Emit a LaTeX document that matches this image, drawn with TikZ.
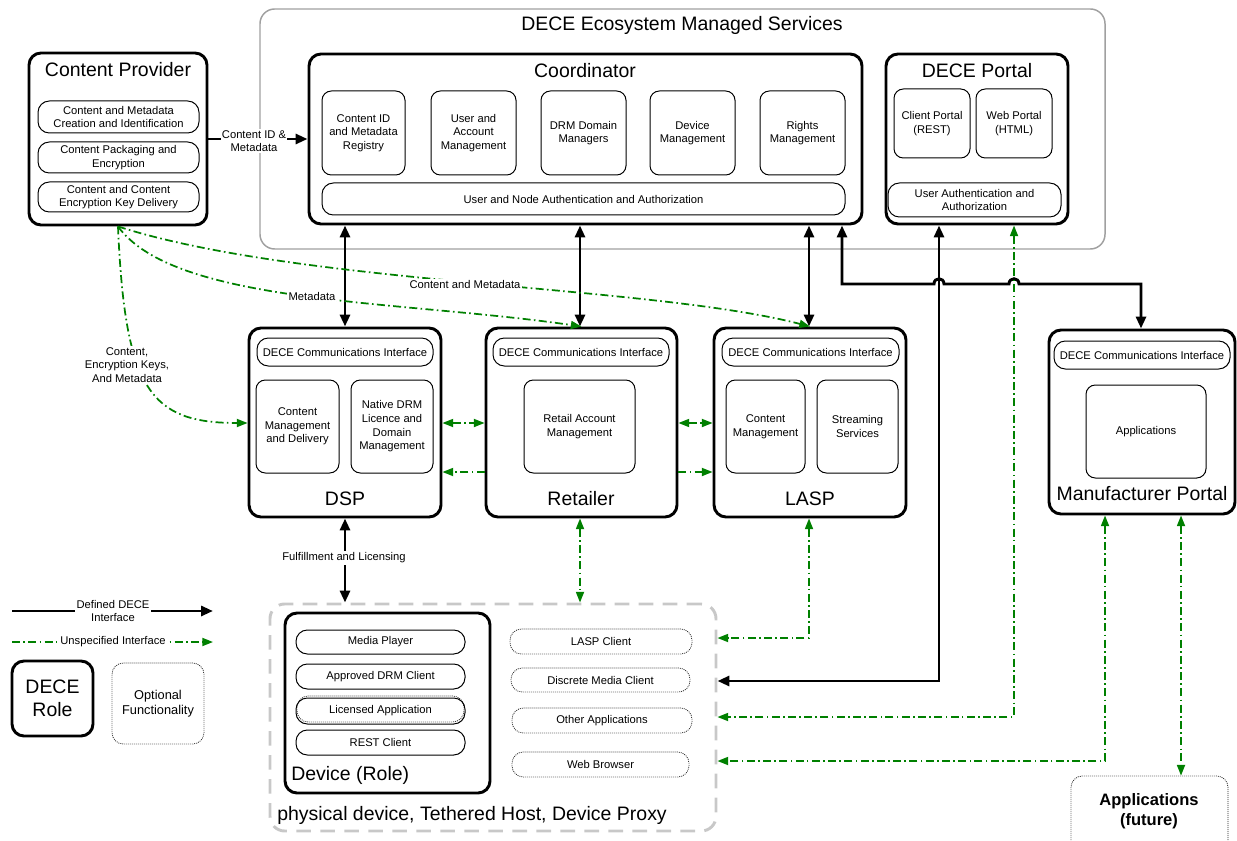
\documentclass[tikz,border=0pt]{standalone}
\usepackage{fontspec}
\setmainfont{Liberation Sans}
\usetikzlibrary{arrows.meta,fit,calc}
\definecolor{dgreen}{RGB}{0,128,0}
\definecolor{lgray}{RGB}{200,200,200}
\definecolor{mgray}{RGB}{160,160,160}
\newcommand{\fSm}{\fontsize{8.4}{10.2}\selectfont}
\newcommand{\fMd}{\fontsize{9.6}{11.6}\selectfont}
\newcommand{\fLg}{\fontsize{14.6}{17.3}\selectfont}
\newcommand{\fBd}{\fontsize{12.4}{15}\selectfont\bfseries}
\tikzset{
 role/.style={draw=black, line width=2.2pt, rounded corners=9pt, inner sep=0pt},
 sub/.style={draw=black, line width=0.75pt, rounded corners=7pt, inner sep=0pt},
 pill/.style={sub, rounded corners=8.5pt},
 opt/.style={draw=black!85, line width=0.6pt, dash pattern=on 0.7pt off 0.8pt, rounded corners=8.5pt, inner sep=0pt},
 txt/.style={font=\fSm, align=center, inner sep=0pt},
 title/.style={font=\fLg, inner sep=0pt},
 lbl/.style={font=\fSm, align=center, fill=white, inner sep=1pt},
 bk/.style={draw=black, line width=2.2pt, >={Triangle[length=9pt,width=7.5pt]}},
 gn/.style={draw=dgreen, line width=1.3pt, dash pattern=on 6pt off 2.5pt on 1.2pt off 2.5pt, >={Triangle[length=8pt,width=6pt]}},
}
% name, style, corner1, corner2, text
\newcommand{\mybox}[5]{\node[#2, fit={#3 #4}] (#1) {};\node[txt] (#1-t) at (#1.center) {#5};}
\begin{document}
\begin{tikzpicture}[x=0.75pt,y=-0.75pt]
\useasboundingbox (0,0) rectangle (1237,841);
\clip (0,0) rectangle (1237,841);

% ecosystem background
\node[draw=mgray, line width=1.1pt, rounded corners=11pt, inner sep=0pt, fit={(260,9) (1105,249)}] (eco) {};
\node[title] (ecot) at (682,25) {DECE Ecosystem Managed Services};

% Content Provider
\node[role, fit={(29,53) (207,225)}] (cp) {};
\node[title] (cpt) at (118,70) {Content Provider};
\mybox{cp1}{pill}{(38,101)}{(199,133)}{Content and Metadata\\Creation and Identification}
\mybox{cp2}{pill}{(38,142)}{(199,173)}{Content Packaging and\\Encryption}
\mybox{cp3}{pill}{(38,182)}{(199,212)}{Content and Content\\Encryption Key Delivery}

% Coordinator
\node[role, fit={(309,54) (862,224)}] (coord) {};
\node[title] (coordt) at (585,71) {Coordinator};
\mybox{co1}{sub}{(322,91)}{(405,175)}{Content ID\\and Metadata\\Registry}
\mybox{co2}{sub}{(431,91)}{(516,175)}{User and\\Account\\Management}
\mybox{co3}{sub}{(541,91)}{(626,175)}{DRM Domain\\Managers}
\mybox{co4}{sub}{(650,91)}{(735,175)}{Device\\Management}
\mybox{co5}{sub}{(760,91)}{(845,175)}{Rights\\Management}
\mybox{co6}{pill}{(322,183)}{(845,215)}{User and Node Authentication and Authorization}

% DECE Portal
\node[role, fit={(886,54) (1068,224)}] (dp) {};
\node[title] (dpt) at (977,71) {DECE Portal};
\mybox{dp1}{sub}{(894,89)}{(970,158)}{Client Portal\\(REST)}
\mybox{dp2}{sub}{(976,89)}{(1052,158)}{Web Portal\\(HTML)}
\mybox{dp3}{pill}{(888,183)}{(1061,217)}{User Authentication and\\Authorization}

% DSP
\node[role, fit={(249,328) (441,517)}] (dsp) {};
\mybox{dsp1}{pill}{(257,338)}{(433,366)}{DECE Communications Interface}
\mybox{dsp2}{sub}{(256,380)}{(339,473)}{Content\\Management\\and Delivery}
\mybox{dsp3}{sub}{(351,380)}{(433,473)}{Native DRM\\Licence and\\Domain\\Management}
\node[title] (dspt) at (345,499) {DSP};

% Retailer
\node[role, fit={(486,328) (677,517)}] (ret) {};
\mybox{ret1}{pill}{(493,338)}{(669,366)}{DECE Communications Interface}
\mybox{ret2}{sub}{(524,380)}{(635,473)}{Retail Account\\Management}
\node[title] (rett) at (581,499) {Retailer};

% LASP
\node[role, fit={(714,328) (906,517)}] (lasp) {};
\mybox{lasp1}{pill}{(722,338)}{(899,366)}{DECE Communications Interface}
\mybox{lasp2}{sub}{(726,380)}{(805,473)}{Content\\Management}
\mybox{lasp3}{sub}{(817,380)}{(898,473)}{Streaming\\Services}
\node[title] (laspt) at (810,499) {LASP};

% Manufacturer Portal
\node[role, fit={(1049,330) (1235,514)}] (mp) {};
\mybox{mp1}{pill}{(1054,341)}{(1230,369)}{DECE Communications Interface}
\mybox{mp2}{sub}{(1086,385)}{(1206,478)}{Applications}
\node[title] (mpt) at (1142,494) {Manufacturer Portal};

% Applications (future)
\node[opt, fit={(1071,776) (1228,860)}] (af) {};
\node[font=\fBd, align=center, inner sep=0pt] (aft) at (1149,811) {Applications\\(future)};

% Device area
\node[draw=lgray, line width=2.2pt, dash pattern=on 11pt off 7pt, rounded corners=11pt, inner sep=0pt, fit={(270,604) (716,831)}] (dev) {};
\node[title, anchor=west] (devt) at (277,815) {physical device, Tethered Host, Device Proxy};
\node[role, fit={(285,613) (490,793)}] (drole) {};
\node[title, anchor=west] (drolet) at (291,775) {Device (Role)};
\mybox{d1}{pill}{(296,630)}{(465,654)}{Media Player}
\mybox{d2}{pill}{(296,664)}{(465,689)}{Approved DRM Client}
\node[opt, fit={(297,696) (464,722)}] (d3b) {};
\mybox{d3}{pill}{(296,698)}{(465,724)}{Licensed Application}
\mybox{d4}{pill}{(296,730)}{(465,755)}{REST Client}
\mybox{o1}{opt}{(510,629)}{(692,654)}{LASP Client}
\mybox{o2}{opt}{(511,668)}{(690,692)}{Discrete Media Client}
\mybox{o3}{opt}{(512,708)}{(692,733)}{Other Applications}
\mybox{o4}{opt}{(512,752)}{(689,777)}{Web Browser}

% Legend
\coordinate (lg1a) at (12,611); \coordinate (lg1b) at (213,611);
\coordinate (lg2a) at (12,642); \coordinate (lg2b) at (213,642);
\draw[bk,->] (lg1a) -- (lg1b);
\draw[gn,->] (lg2a) -- (lg2b);
\node[lbl] (lgl1) at (113,611) {Defined DECE\\Interface};
\node[lbl] (lgl2) at (113,642) {Unspecified Interface};
\node[role, fit={(12,661) (93,736)}] (lgr) {};
\node[title, align=center] (lgrt) at (lgr.center) {DECE\\Role};
\node[opt, fit={(112,663) (204,744)}] (lgo) {};
\node[txt, font=\fMd] (lgot) at (lgo.center) {Optional\\Functionality};

% helper coordinates
\coordinate (xa) at (345,0);
\coordinate (xb) at (580,0);
\coordinate (xc) at (809,0);
\coordinate (h1) at (842,284);
\coordinate (h2) at (1141,284);
\coordinate (k1) at (939,681);
\coordinate (g1) at (1014,717);
\coordinate (g2) at (1105,761);
\coordinate (g3) at (1181,0);
\coordinate (g4) at (809,638);
\coordinate (r1) at (0,423);
\coordinate (r2) at (0,472);

% black interfaces
\draw[bk,->] (cp.east) -- (cp.east -| coord.west);
\draw[bk,<->] (coord.south -| xa) -- (dsp.north -| xa);
\draw[bk,<->] (coord.south -| xb) -- (ret.north -| xb);
\draw[bk,<->] (coord.south -| xc) -- (lasp.north -| xc);
\draw[bk,<->] (coord.south -| h1) -- (h1) -- (934,284) .. controls (934,277) and (944,277) .. (944,284) -- (1009,284) .. controls (1009,277) and (1019,277) .. (1019,284) -- (h2) -- (mp.north -| h2);
\draw[bk,<->] (dp.south -| k1) -- (k1) -- (k1 -| dev.east);
\draw[bk,<->] (dsp.south -| xa) -- (dev.north -| xa);

% green interfaces
\draw[gn,<->] (dp.south -| g1) -- (g1) -- (g1 -| dev.east);
\draw[gn,<->] (mp.south -| g2) -- (g2) -- (g2 -| dev.east);
\draw[gn,<->] (mp.south -| g3) -- (af.north -| g3);
\draw[gn,<->] (lasp.south -| g4) -- (g4) -- (g4 -| dev.east);
\draw[gn,<->] (ret.south -| xb) -- (dev.north -| xb);
\draw[gn,<->] (dsp.east |- r1) -- (ret.west |- r1);
\draw[gn,->] (ret.west |- r2) -- (dsp.east |- r2);
\draw[gn,<->] (ret.east |- r1) -- (lasp.west |- r1);
\draw[gn,->] (ret.east |- r2) -- (lasp.west |- r2);
\draw[gn,->] (cp.south) .. controls (125,390) and (150,423) .. (dsp.west |- r1);
\draw[gn,->] (cp.south) .. controls (175,305) and (400,300) .. (ret.north);
\draw[gn,->] (cp.south) .. controls (300,285) and (650,285) .. (lasp.north);

% labels
\node[lbl] (l1) at (127,365) {Content,\\Encryption Keys,\\And Metadata};
\node[lbl] (l2) at (312,296) {Metadata};
\node[lbl] (l3) at (465,284) {Content and Metadata};
\node[lbl] (l4) at (254,141) {Content ID \&\\Metadata};
\node[lbl] (l5) at (344,558) {Fulfillment and Licensing};
\end{tikzpicture}
\end{document}
